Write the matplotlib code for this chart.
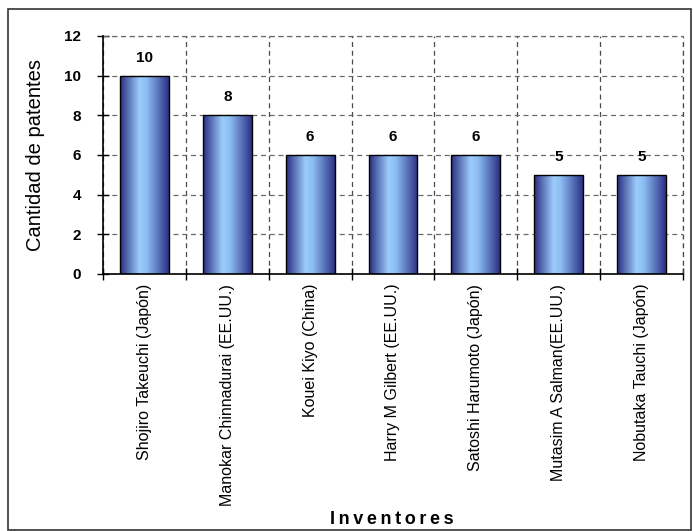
import matplotlib
matplotlib.use("Agg")
import matplotlib.pyplot as plt
import numpy as np
from matplotlib.colors import LinearSegmentedColormap
from matplotlib.patches import Rectangle

categories = ["Shojiro Takeuchi (Japón)", "Manokar Chinnadurai (EE.UU.)",
              "Kouei Kiyo (China)", "Harry M Gilbert (EE.UU.)",
              "Satoshi Harumoto (Japón)", "Mutasim A Salman(EE.UU.)",
              "Nobutaka Tauchi (Japón)"]
values = [10, 8, 6, 6, 6, 5, 5]
yticks = [0, 2, 4, 6, 8, 10, 12]

plt.rcParams['font.family'] = ['Liberation Sans', 'DejaVu Sans']

fig = plt.figure(figsize=(6.93, 5.31), dpi=100)
fig.patches.append(Rectangle((8/693, 1-530/531), 683/693, 521/531, transform=fig.transFigure,
                             fill=False, edgecolor='#333333', linewidth=1.2, zorder=0))
ax = fig.add_axes([103/693, 1-274/531, 580/693, 238/531])

x = np.arange(len(categories))
bars = ax.bar(x, values, width=0.59, color='none', edgecolor='black', linewidth=1.0, zorder=3)

cmap = LinearSegmentedColormap.from_list('g', [(0, '#282c80'), (0.40, '#9ccdfc'), (0.55, '#8cbdf3'), (1.0, '#2b3085')])
grad = np.linspace(0, 1, 256).reshape(1, -1)
for b in bars:
    bx, by, bw, bh = b.get_x(), b.get_y(), b.get_width(), b.get_height()
    im = ax.imshow(grad, cmap=cmap, extent=(bx, bx + bw, by, by + bh), aspect='auto', zorder=2,
                   interpolation='bicubic')
    im.set_clip_path(b)
    ax.text(bx + bw / 2, bh + 0.55, str(int(bh)), ha='center', va='bottom',
            fontsize=11, fontweight='bold', zorder=4)

ax.set_xlim(-0.5, len(categories) - 0.5)
ax.set_ylim(0, 12)
ax.set_yticks(yticks)
ax.set_yticklabels([str(v) for v in yticks], fontsize=11, fontweight='bold')
ax.set_xticks(x)
ax.set_xticklabels(categories, rotation=90, fontsize=11.5, va='top', ha='center')
ax.set_xticks(np.arange(-0.5, len(categories), 1.0), minor=True)
ax.tick_params(axis='x', which='major', length=0, pad=7)
ax.tick_params(axis='x', which='minor', length=8, direction='inout', width=1)
ax.tick_params(axis='y', length=8, direction='inout', width=1, pad=12)

ax.grid(axis='y', which='major', linestyle=(0, (4, 3)), color='#6a6a6a', linewidth=0.9, zorder=1)
ax.grid(axis='x', which='minor', linestyle=(0, (4, 3)), color='#4a4a4a', linewidth=0.9, zorder=1)
ax.set_axisbelow(True)
for s in ['top', 'right']:
    ax.spines[s].set_visible(False)
ax.spines['left'].set_linewidth(1.2)
ax.spines['bottom'].set_linewidth(1.2)
ax.plot([len(categories) - 0.5] * 2, [0, 12], linestyle=(0, (4, 3)), color='#4a4a4a', lw=0.9, zorder=1, clip_on=False)
ax.plot([-0.5, len(categories) - 0.5], [12, 12], linestyle=(0, (4, 3)), color='#6a6a6a', lw=0.9, zorder=1, clip_on=False)

fig.text(36/693, 1-155/531, "Cantidad de patentes", rotation=90, ha='center', va='center', fontsize=14.5)
fig.text(392/693, 1-520/531, "\u2009".join("Inventores"), ha='center', va='center', fontsize=13,
         fontweight='bold', family=['Liberation Sans', 'DejaVu Sans'])

fig.savefig("out.png", dpi=100)
